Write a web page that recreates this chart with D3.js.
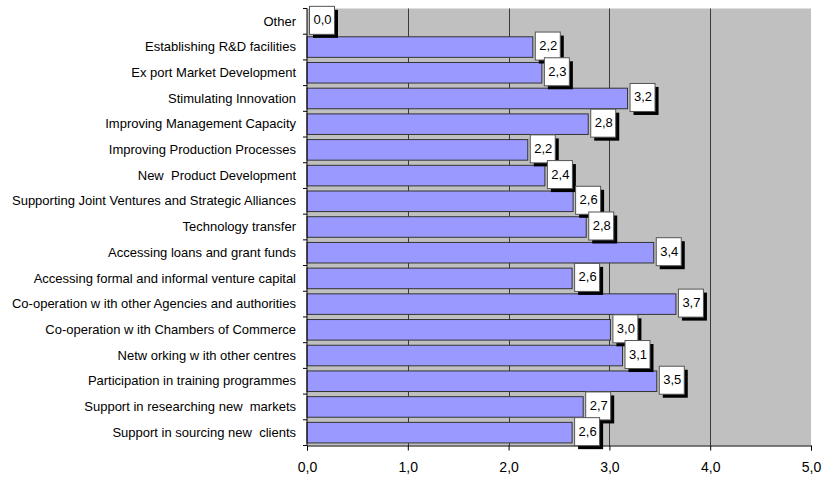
<!DOCTYPE html>
<html>
<head>
<meta charset="utf-8">
<script src="https://cdn.jsdelivr.net/npm/d3@7"></script>
<style>
  html, body { margin: 0; padding: 0; background: #fff; }
  svg { display: block; font-family: Arial, "Liberation Sans", sans-serif; }
</style>
</head>
<body>
<svg id="chart" width="823" height="480"></svg>
<script>
// Service categories, top to bottom
const categories = [
  "Other",
  "Establishing R&D facilities",
  "Ex port Market Development",
  "Stimulating Innovation",
  "Improving Management Capacity",
  "Improving Production Processes",
  "New  Product Development",
  "Supporting Joint Ventures and Strategic Alliances",
  "Technology transfer",
  "Accessing loans and grant funds",
  "Accessing formal and informal venture capital",
  "Co-operation w ith other Agencies and authorities",
  "Co-operation w ith Chambers of Commerce",
  "Netw orking w ith other centres",
  "Participation in training programmes",
  "Support in researching new  markets",
  "Support in sourcing new  clients"
];

// Mean rating per category
const scores = [
  0.00, 2.24, 2.33, 3.18, 2.79, 2.19, 2.36, 2.64, 2.77,
  3.44, 2.63, 3.66, 3.01, 3.13, 3.47, 2.74, 2.63
];

// Value axis ticks
const xTicks = [0, 1, 2, 3, 4, 5];
const xTickLabels = ["0,0", "1,0", "2,0", "3,0", "4,0", "5,0"];

const svg = d3.select("#chart");
const plotL = 307, plotR = 811, plotT = 8.5, plotB = 445.5;

const x = d3.scaleLinear().domain([0, 5]).range([plotL, plotR]);
const y = d3.scaleBand()
  .domain(categories)
  .range([plotT, plotB])
  .paddingInner(0.2)
  .paddingOuter(0.1);

const fmt = v => d3.format(".1f")(v).replace(".", ",");

// Plot background
svg.append("rect")
  .attr("x", plotL).attr("y", plotT)
  .attr("width", plotR - plotL).attr("height", plotB - plotT)
  .attr("fill", "#c0c0c0");

// Vertical gridlines
svg.append("g")
  .selectAll("line")
  .data(xTicks.filter(d => d > 0 && d < 5))
  .join("line")
  .attr("x1", d => Math.round(x(d)) + 0.5)
  .attr("x2", d => Math.round(x(d)) + 0.5)
  .attr("y1", plotT).attr("y2", plotB)
  .attr("stroke", "#3a3a3a")
  .attr("stroke-width", 1);

// Bars
svg.append("g")
  .selectAll("rect")
  .data(categories.map((c, i) => ({ c, v: scores[i] })).filter(d => d.v > 0))
  .join("rect")
  .attr("x", x(0))
  .attr("y", d => y(d.c))
  .attr("width", d => x(d.v) - x(0))
  .attr("height", y.bandwidth())
  .attr("fill", "#9999ff")
  .attr("stroke", "#333333")
  .attr("stroke-width", 1);

// Category axis: labels from the axis, ticks at band boundaries
const yAxis = svg.append("g")
  .attr("transform", `translate(${plotL},0)`)
  .call(d3.axisLeft(y).tickSize(0).tickPadding(11));
yAxis.select(".domain").remove();
yAxis.selectAll("text")
  .attr("font-size", 13)
  .attr("font-family", "Arial, 'Liberation Sans', sans-serif")
  .attr("fill", "#000")
  .style("white-space", "pre");

const step = y.step();
const boundaries = d3.range(categories.length + 1).map(i => plotT + i * step);
svg.append("g")
  .selectAll("line")
  .data(boundaries)
  .join("line")
  .attr("x1", plotL - 4).attr("x2", plotL)
  .attr("y1", d => d).attr("y2", d => d)
  .attr("stroke", "#000");
svg.append("line")
  .attr("x1", plotL).attr("x2", plotL)
  .attr("y1", plotT).attr("y2", plotB)
  .attr("stroke", "#000");

// Value axis
const xAxis = svg.append("g")
  .attr("transform", `translate(0,${plotB})`)
  .call(d3.axisBottom(x).tickValues(xTicks)
    .tickFormat((d, i) => xTickLabels[i])
    .tickSize(5).tickPadding(12));
xAxis.select(".domain").attr("stroke", "#000");
xAxis.selectAll("line").attr("stroke", "#000");
xAxis.selectAll("text")
  .attr("font-size", 14)
  .attr("font-family", "Arial, 'Liberation Sans', sans-serif")
  .attr("fill", "#000");

// Value labels in boxes with drop shadow
const boxW = 25, boxH = 28;
const lbl = svg.append("g")
  .selectAll("g")
  .data(categories.map((c, i) => ({ c, v: scores[i] })))
  .join("g")
  .attr("transform", d => `translate(${x(d.v) + 2},${y(d.c) + y.bandwidth() / 2 - 1.5 - boxH / 2})`);
lbl.append("rect")
  .attr("x", 4).attr("y", 4)
  .attr("width", boxW).attr("height", boxH)
  .attr("fill", "#000");
lbl.append("rect")
  .attr("x", 0.5).attr("y", 0.5)
  .attr("width", boxW).attr("height", boxH)
  .attr("fill", "#fff")
  .attr("stroke", "#555")
  .attr("stroke-width", 1);
lbl.append("text")
  .attr("x", boxW / 2 + 1)
  .attr("y", boxH / 2 + 4.5)
  .attr("text-anchor", "middle")
  .attr("font-size", 13)
  .attr("fill", "#000")
  .text(d => fmt(d.v));
</script>
</body>
</html>
